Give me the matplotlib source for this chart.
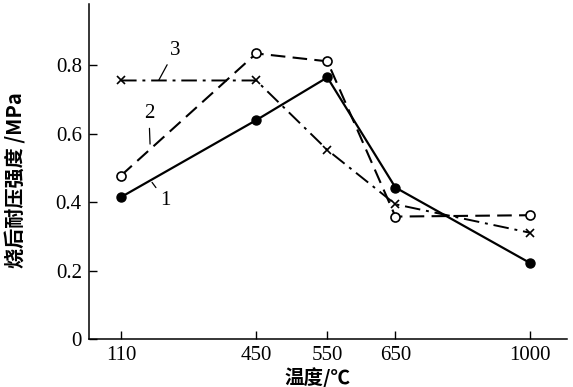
import numpy as np
import matplotlib
matplotlib.use('Agg')
from matplotlib import pyplot as plt

plt.rcParams['font.family'] = ['Liberation Serif', 'Noto Sans CJK SC', 'DejaVu Sans']

# data
temps = [110, 450, 550, 650, 1000]
strength_1 = [0.415, 0.64, 0.765, 0.443, 0.223]
strength_2 = [0.478, 0.835, 0.812, 0.358, 0.362]
strength_3 = [0.756, 0.756, 0.553, 0.394, 0.311]
xtick_labels = ['110', '450', '550', '650', '1000']
yticks = [0, 0.2, 0.4, 0.6, 0.8]
ytick_labels = ['0', '0.2', '0.4', '0.6', '0.8']

# the original axis is not linear in temperature; piecewise mapping of tick spacing
knot_t = np.array([0, 110, 450, 550, 650, 1000, 1100])
knot_p = np.array([77.3, 121, 256, 327, 395, 529, 567])


def fwd(t):
    return np.interp(t, knot_t, knot_p)


def inv(p):
    return np.interp(p, knot_p, knot_t)


fig = plt.figure(figsize=(5.73, 3.87), dpi=100)
ax = fig.add_axes([0.155, 0.124, 0.835, 0.866])
ax.set_xscale('function', functions=(fwd, inv))

ax.plot(temps, strength_1, color='black', lw=1.6, marker='o', ms=6.5,
        mfc='black', mec='black')
ax.plot(temps, strength_2, color='black', lw=1.5, dashes=(7, 3.5), marker='o',
        ms=6.5, mfc='white', mec='black', mew=1.2)
ax.plot(temps, strength_3, color='black', lw=1.4, dashes=(8, 3, 1.5, 3),
        marker='x', ms=6, mew=1.2)

ax.set_xlim(29, 1099)
ax.set_ylim(0, 0.98)
ax.set_xticks(temps)
ax.set_xticklabels(xtick_labels)
ax.set_yticks(yticks)
ax.set_yticklabels(ytick_labels)
ax.tick_params(direction='in', length=6, width=1, labelsize=15, pad=5)
ax.minorticks_off()

for side in ['top', 'right']:
    ax.spines[side].set_visible(False)
for side in ['left', 'bottom']:
    ax.spines[side].set_linewidth(1.1)

# curve numbers with leader lines
leader = dict(arrowstyle='-', color='black', lw=0.9, shrinkA=2, shrinkB=0)
ax.annotate('1', xy=(188, 0.458), xytext=(222, 0.405), fontsize=15,
            ha='center', va='center', arrowprops=leader)
ax.annotate('2', xy=(183, 0.57), xytext=(180, 0.66), fontsize=15,
            ha='center', va='center', arrowprops=leader)
ax.annotate('3', xy=(205, 0.757), xytext=(246, 0.845), fontsize=15,
            ha='center', va='center', arrowprops=leader)

ax.set_xlabel('温度/℃', fontsize=14,
              family=['Noto Sans CJK SC', 'DejaVu Sans'], fontweight='bold')
ax.set_ylabel('烧后耐压强度 /MPa', fontsize=14.5,
              family=['Noto Sans CJK SC', 'DejaVu Sans'], fontweight='bold')
ax.xaxis.set_label_coords(0.477, -0.085)
ax.yaxis.set_label_coords(-0.13, 0.475)

fig.savefig('out.png', dpi=100)
